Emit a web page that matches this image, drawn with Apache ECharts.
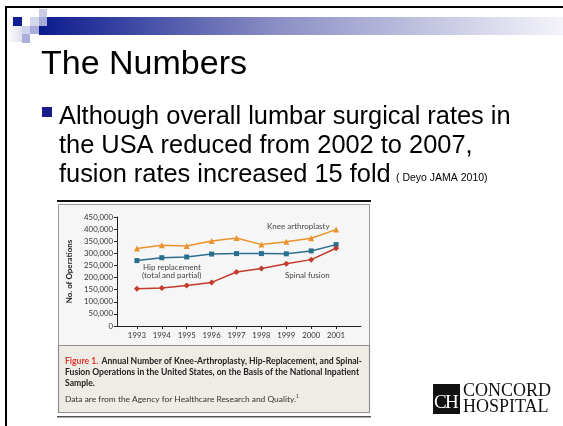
<!DOCTYPE html>
<html>
<head>
<meta charset="utf-8">
<script src="https://cdn.jsdelivr.net/npm/echarts@6/dist/echarts.min.js"></script>
<style>
  html, body { margin: 0; padding: 0; background: #fff; }
  #main { width: 563px; height: 426px; }
</style>
</head>
<body>
<div id="main"></div>
<script>
// values
var years = [1993, 1994, 1995, 1996, 1997, 1998, 1999, 2000, 2001];
var knee = [320000, 333000, 330000, 351000, 363000, 336000, 348000, 362000, 398000];
var hip = [270000, 282000, 285000, 297000, 299000, 299000, 298000, 310000, 336000];
var spinal = [154000, 157000, 167000, 180000, 223000, 237000, 257000, 274000, 321000];
var yTicks = [0, 50000, 100000, 150000, 200000, 250000, 300000, 350000, 400000, 450000];

var chartFont = 'Lato, "Open Sans", sans-serif';
var slideFont = '"Liberation Sans", Arial, sans-serif';
var serif = '"Liberation Serif", "DejaVu Serif", serif';

function pairs(vals) {
  return years.map(function (y, i) { return [y, vals[i]]; });
}

function lineSeries(name, vals, color, symbol, size) {
  return {
    name: name,
    type: 'line',
    data: pairs(vals),
    symbol: symbol,
    symbolSize: size,
    lineStyle: { color: color, width: 1.5 },
    itemStyle: { color: color },
    z: 5
  };
}

var chart = echarts.init(document.getElementById('main'));

chart.setOption({
  animation: false,
  backgroundColor: '#fff',
  grid: { left: 117, right: 202, top: 217, bottom: 100 },
  xAxis: {
    type: 'value',
    min: 1992.2,
    max: 2002,
    splitLine: { show: false },
    axisLine: { lineStyle: { color: '#222', width: 1 } },
    axisTick: { customValues: years, length: 3, lineStyle: { color: '#222' } },
    axisLabel: {
      customValues: years,
      color: '#333',
      fontSize: 7.8,
      fontFamily: chartFont,
      margin: 5,
      formatter: function (v) { return String(v); }
    }
  },
  yAxis: {
    type: 'value',
    min: yTicks[0],
    max: yTicks[yTicks.length - 1],
    interval: yTicks[1] - yTicks[0],
    name: 'No. of Operations',
    nameLocation: 'middle',
    nameGap: 44,
    nameTextStyle: { fontSize: 8, fontWeight: 'bold', color: '#222', fontFamily: chartFont },
    splitLine: { show: false },
    axisLine: { show: true, lineStyle: { color: '#222', width: 1 } },
    axisTick: { show: true, length: 3, lineStyle: { color: '#222' } },
    axisLabel: {
      color: '#333',
      fontSize: 7.8,
      fontFamily: chartFont,
      margin: 4,
      formatter: function (v) { return v.toLocaleString('en-US'); }
    }
  },
  series: [
    lineSeries('Knee arthroplasty', knee, '#ec922c', 'triangle', 6),
    lineSeries('Hip replacement', hip, '#2b6f8e', 'rect', 5),
    lineSeries('Spinal fusion', spinal, '#c43a2c', 'diamond', 6)
  ],
  graphic: [
    // slide frame
    { type: 'rect', shape: { x: 5, y: 6, width: 558, height: 2 }, style: { fill: '#000' } },
    { type: 'rect', shape: { x: 5, y: 6, width: 2, height: 420 }, style: { fill: '#000' } },
    // title bar gradient
    {
      type: 'rect', shape: { x: 39, y: 17, width: 524, height: 18 },
      style: {
        fill: new echarts.graphic.LinearGradient(0, 0, 1, 0, [
          { offset: 0, color: '#0b1b8e' },
          { offset: 0.45, color: '#8a8ec4' },
          { offset: 1, color: '#f4f4fa' }
        ])
      }
    },
    { type: 'rect', shape: { x: 7, y: 17, width: 15, height: 25 },
      style: { fill: new echarts.graphic.LinearGradient(0, 0, 1, 0, [
        { offset: 0, color: '#ffffff' }, { offset: 1, color: '#dfe0f0' }]) } },
    { type: 'rect', shape: { x: 13, y: 17, width: 9, height: 9 }, style: { fill: '#0f1f93' } },
    { type: 'rect', shape: { x: 39, y: 9, width: 8, height: 8 }, style: { fill: '#c9cbe7' } },
    { type: 'rect', shape: { x: 30, y: 17, width: 9, height: 9 }, style: { fill: '#d3d5ec' } },
    { type: 'rect', shape: { x: 39, y: 17, width: 8, height: 9 }, style: { fill: '#a7abd8' } },
    { type: 'rect', shape: { x: 22, y: 26, width: 8, height: 8 }, style: { fill: '#d0d3ec' } },
    { type: 'rect', shape: { x: 30, y: 26, width: 9, height: 8 }, style: { fill: '#a9addb' } },
    { type: 'rect', shape: { x: 22, y: 34, width: 8, height: 9 }, style: { fill: '#aaaedb' } },
    // title
    { type: 'text', x: 41, y: 65,
      style: { text: 'The Numbers', font: '34px ' + slideFont, fill: '#000', verticalAlign: 'middle' } },
    // bullet
    { type: 'rect', shape: { x: 42, y: 107, width: 10, height: 10 }, style: { fill: '#1c1c8c' } },
    { type: 'text', x: 59, y: 117,
      style: { text: 'Although overall lumbar surgical rates in', font: '25.4px ' + slideFont, fill: '#000', verticalAlign: 'middle' } },
    { type: 'text', x: 59, y: 146,
      style: { text: 'the USA reduced from 2002 to 2007,', font: '25.4px ' + slideFont, fill: '#000', verticalAlign: 'middle' } },
    { type: 'text', x: 59, y: 175,
      style: { text: 'fusion rates increased 15 fold', font: '25.4px ' + slideFont, fill: '#000', verticalAlign: 'middle' } },
    { type: 'text', x: 396, y: 184,
      style: { text: '( Deyo JAMA 2010)', font: '10.5px ' + slideFont, fill: '#000', verticalAlign: 'bottom' } },
    // figure frame
    { type: 'rect', shape: { x: 57, y: 200, width: 314, height: 2 }, style: { fill: '#111' } },
    { type: 'rect', z: -1, shape: { x: 58.5, y: 204.5, width: 311, height: 141 },
      style: { fill: '#f6f6f6', stroke: '#9a9a9a', lineWidth: 1 } },
    { type: 'rect', z: -1, shape: { x: 58.5, y: 345.5, width: 311, height: 67 },
      style: { fill: '#efebe5', stroke: '#8f8f8f', lineWidth: 1.2 } },
    { type: 'rect', shape: { x: 57, y: 416, width: 314, height: 1.5 }, style: { fill: '#555' } },
    // series annotations
    { type: 'text', x: 267, y: 226,
      style: { text: 'Knee arthroplasty', font: '8px ' + chartFont, fill: '#444', verticalAlign: 'middle' } },
    { type: 'text', x: 143, y: 267,
      style: { text: 'Hip replacement', font: '8px ' + chartFont, fill: '#444', verticalAlign: 'middle' } },
    { type: 'text', x: 142, y: 275,
      style: { text: '(total and partial)', font: '8px ' + chartFont, fill: '#444', verticalAlign: 'middle' } },
    { type: 'text', x: 285, y: 275,
      style: { text: 'Spinal fusion', font: '8px ' + chartFont, fill: '#444', verticalAlign: 'middle' } },
    // caption
    { type: 'text', x: 65, y: 361,
      style: {
        text: '{r|Figure 1.} {b|Annual Number of Knee-Arthroplasty, Hip-Replacement, and Spinal-}',
        verticalAlign: 'middle',
        rich: {
          r: { fill: '#e0352b', font: 'bold 8.6px ' + chartFont },
          b: { fill: '#222', font: 'bold 8.6px ' + chartFont }
        }
      } },
    { type: 'text', x: 65, y: 372.5,
      style: { text: 'Fusion Operations in the United States, on the Basis of the National Inpatient',
        font: 'bold 8.6px ' + chartFont, fill: '#222', verticalAlign: 'middle' } },
    { type: 'text', x: 65, y: 383.5,
      style: { text: 'Sample.', font: 'bold 8.6px ' + chartFont, fill: '#222', verticalAlign: 'middle' } },
    { type: 'text', x: 65, y: 399,
      style: {
        text: '{n|Data are from the Agency for Healthcare Research and Quality.}{s|1}',
        verticalAlign: 'middle',
        rich: {
          n: { fill: '#333', font: '8.4px ' + chartFont },
          s: { fill: '#333', font: '5px ' + chartFont, verticalAlign: 'top', padding: [0, 0, 5, 0] }
        }
      } },
    // logo
    { type: 'rect', shape: { x: 433, y: 384, width: 27, height: 30 }, style: { fill: '#111' } },
    { type: 'text', x: 434, y: 413,
      style: { text: 'C', font: '19px ' + serif, fill: '#fff', verticalAlign: 'bottom' } },
    { type: 'text', x: 445, y: 413,
      style: { text: 'H', font: '19px ' + serif, fill: '#fff', verticalAlign: 'bottom' } },
    { type: 'text', x: 463, y: 391,
      style: { text: 'CONCORD', font: '18px ' + serif, fill: '#111', verticalAlign: 'middle' } },
    { type: 'text', x: 463, y: 407,
      style: { text: 'HOSPITAL', font: '18px ' + serif, fill: '#111', verticalAlign: 'middle' } }
  ]
});
</script>
</body>
</html>
